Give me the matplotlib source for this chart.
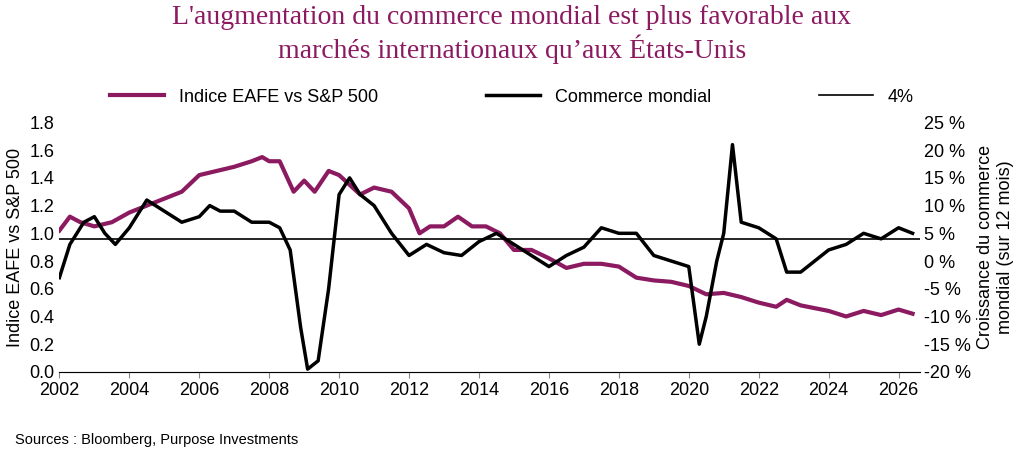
import numpy as np
import matplotlib.pyplot as plt

plt.rcParams['font.family'] = ['Liberation Sans', 'DejaVu Sans']

eafe_t = [2002, 2002.3, 2002.6, 2003, 2003.5, 2004, 2004.5, 2005, 2005.5, 2006, 2006.5, 2007, 2007.5, 2007.8,
          2008, 2008.3, 2008.7, 2009, 2009.3, 2009.7, 2010, 2010.3, 2010.6, 2011, 2011.5, 2012, 2012.3, 2012.6,
          2013, 2013.4, 2013.8, 2014.2, 2014.6, 2015, 2015.5, 2016, 2016.5, 2017, 2017.5, 2018, 2018.5, 2019,
          2019.5, 2020, 2020.5, 2021, 2021.5, 2022, 2022.5, 2022.8, 2023.2, 2023.6, 2024, 2024.5, 2025, 2025.5,
          2026, 2026.4]
eafe_v = [1.02, 1.12, 1.08, 1.05, 1.08, 1.15, 1.2, 1.25, 1.3, 1.42, 1.45, 1.48, 1.52, 1.55,
          1.52, 1.52, 1.3, 1.38, 1.3, 1.45, 1.42, 1.35, 1.28, 1.33, 1.3, 1.18, 1.0, 1.05,
          1.05, 1.12, 1.05, 1.05, 1.0, 0.88, 0.88, 0.82, 0.75, 0.78, 0.78, 0.76, 0.68, 0.66,
          0.65, 0.62, 0.56, 0.57, 0.54, 0.50, 0.47, 0.52, 0.48, 0.46, 0.44, 0.40, 0.44, 0.41,
          0.45, 0.42]

trade_t = [2002, 2002.3, 2002.7, 2003, 2003.3, 2003.6, 2004, 2004.5, 2005, 2005.5, 2006, 2006.3, 2006.6, 2007,
           2007.5, 2008, 2008.3, 2008.6, 2008.9, 2009.1, 2009.4, 2009.7, 2010, 2010.3, 2010.6, 2011, 2011.5,
           2012, 2012.5, 2013, 2013.5, 2014, 2014.5, 2015, 2015.5, 2016, 2016.5, 2017, 2017.5, 2018, 2018.5,
           2019, 2019.5, 2020, 2020.3, 2020.5, 2020.8, 2021, 2021.25, 2021.5, 2022, 2022.5, 2022.8, 2023.2,
           2023.6, 2024, 2024.5, 2025, 2025.5, 2026, 2026.4]
trade_v = [-3, 3, 7, 8, 5, 3, 6, 11, 9, 7, 8, 10, 9, 9,
           7, 7, 6, 2, -12, -19.5, -18, -5, 12, 15, 12, 10, 5,
           1, 3, 1.5, 1, 3.5, 5, 3, 1, -1, 1, 2.5, 6, 5, 5,
           1, 0, -1, -15, -10, 0, 5, 21, 7, 6, 4, -2, -2,
           0, 2, 3, 5, 4, 6, 5]

purple = '#8B1A60'
fig = plt.figure(figsize=(10.24, 4.62), dpi=100)
ax = fig.add_axes([0.058, 0.195, 0.84, 0.54])
ax.plot(eafe_t, eafe_v, color=purple, lw=3, label='Indice EAFE vs S&P 500')
ax.set_ylim(0, 1.8)
ax.set_yticks(np.arange(0, 1.81, 0.2))
ax.set_yticklabels([f'{v:.1f}' for v in np.arange(0, 1.81, 0.2)])
ax.set_xlim(2002, 2026.6)
ax.set_xticks(range(2002, 2027, 2))
ax.set_ylabel('Indice EAFE vs S&P 500', fontsize=13)

ax2 = ax.twinx()
ax2.plot(trade_t, trade_v, color='black', lw=2.5, label='Commerce mondial')
ax2.axhline(4, color='black', lw=1.2, label='4%')
ax2.set_ylim(-20, 25)
ax2.set_yticks(range(-20, 26, 5))
ax2.set_yticklabels([f'{v} %' for v in range(-20, 26, 5)])
ax2.set_ylabel('Croissance du commerce\nmondial (sur 12 mois)', fontsize=13)

for a in (ax, ax2):
    for s in ['top', 'left', 'right']:
        a.spines[s].set_visible(False)
    a.tick_params(labelsize=13, length=0)
ax.spines['bottom'].set_color('#888888')
ax.tick_params(axis='x', length=4, color='#888888')

h1, l1 = ax.get_legend_handles_labels()
h2, l2 = ax2.get_legend_handles_labels()
fig.legend(h1 + h2, l1 + l2, loc='center', bbox_to_anchor=(0.5, 0.79), ncol=3, frameon=False,
           fontsize=13, columnspacing=6, handlelength=3)

fig.suptitle("L'augmentation du commerce mondial est plus favorable aux\nmarchés internationaux qu’aux États-Unis",
             y=0.99, fontsize=20, color=purple, family='Liberation Serif')
fig.text(0.015, 0.04, 'Sources : Bloomberg, Purpose Investments', fontsize=10.5)
fig.savefig('out.png', dpi=100)
